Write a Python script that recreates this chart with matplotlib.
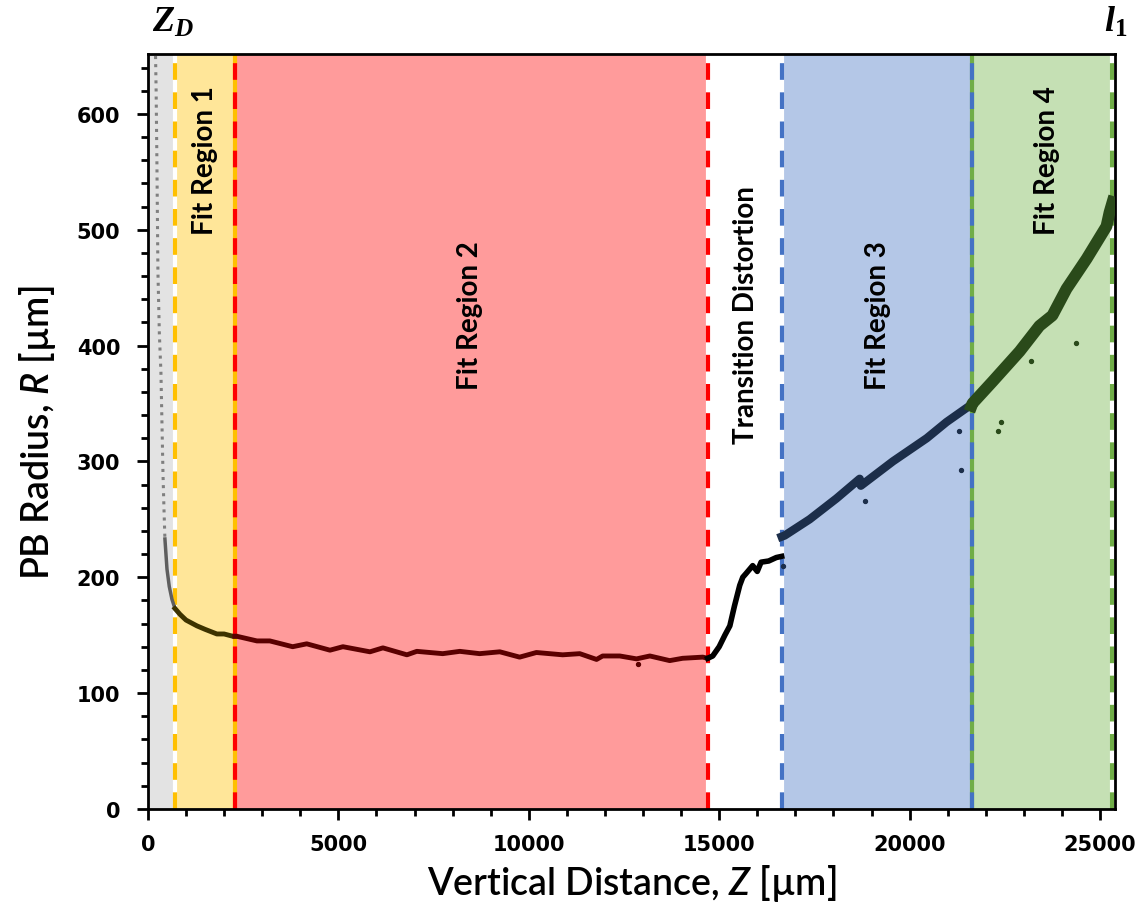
import matplotlib
matplotlib.use('Agg')
import matplotlib.pyplot as plt
from matplotlib.ticker import MultipleLocator

plt.rcParams['mathtext.fontset'] = 'custom'
plt.rcParams['mathtext.rm'] = 'Lato'
plt.rcParams['mathtext.it'] = 'Lato:italic:semibold'
plt.rcParams['mathtext.bf'] = 'Liberation Serif:bold'
plt.rcParams['mathtext.bfit'] = 'Liberation Serif:italic:bold'

# region boundaries along Z [um]
bounds = [0, 709, 2283, 14698, 16640, 21627, 25302]
fills = ['#e3e3e3', '#ffe699', '#ff9b9b', '#ffffff', '#b4c7e7', '#c5e0b4']

# data, per region
z_gray = [200, 215, 235, 262, 300, 341, 370, 394, 420, 446, 500, 560, 630, 709]
r_gray = [650, 620, 560, 464, 410, 377, 330, 291, 260, 233, 207, 192, 181, 173]

z_fit1 = [709, 840, 1000, 1286, 1500, 1810, 2000, 2230, 2283]
r_fit1 = [173, 168, 163, 158, 155, 151, 151, 149, 149]

z_fit2 = [2283, 2336, 2861, 3200, 3800, 4170, 4780, 5120, 5830, 6170, 6800, 7060, 7740,
          8190, 8710, 9240, 9760, 10200, 10890, 11340, 11780, 11940, 12390, 12830,
          13180, 13700, 14040, 14570, 14698]
r_fit2 = [149, 149, 145, 145, 140, 142.5, 137, 140, 135.6, 139, 133, 136, 134,
          136, 134, 135.6, 131, 135, 133, 134, 129, 132, 132, 129.5,
          132, 128, 130, 131, 130]

z_trans = [14698, 14830, 15000, 15150, 15280, 15400, 15540, 15620, 15700, 15880, 16000,
           16100, 16300, 16500, 16640]
r_trans = [130, 132, 140, 150, 158, 175, 193, 200, 203, 210, 205, 213, 214, 217, 218]

z_fit3 = [16640, 16720, 17375, 18080, 18690, 18720, 19560, 20450, 20970, 21575, 21627]
r_fit3 = [235, 236, 250, 268, 285, 279, 300, 320, 334, 348, 349]

z_fit4 = [21627, 21650, 22180, 22890, 23410, 23750, 24120, 24650, 25170, 25250, 25330]
r_fit4 = [348, 350, 369, 395, 417, 426, 449, 475, 503, 515, 524]

# stray points
z_out3 = [18820, 21360, 21310, 16670]
r_out3 = [266, 293, 326, 210]
z_out4 = [24360, 23200, 22410, 22310]
r_out4 = [402, 387, 334, 326]
z_out2 = [12860]
r_out2 = [125]

fig = plt.figure(figsize=(11.38, 9.12), dpi=100)
ax = fig.add_axes([0.130, 0.112, 0.850, 0.828])

for i in range(len(fills)):
    ax.axvspan(bounds[i], bounds[i + 1], color=fills[i], lw=0, zorder=0)

# dashed region borders
dash = (0, (4, 3))
def vline(x, col, under):
    ax.axvline(x, color=under, lw=3, zorder=1)
    ax.axvline(x, color=col, lw=3, linestyle=dash, zorder=1.1)

vline(709, '#ffc000', 'white')
vline(2283, '#ff0000', '#ffc000')
vline(14698, '#ff0000', 'white')
vline(16640, '#4472c4', 'white')
vline(21627, '#4472c4', '#70ad47')
vline(25302, '#70ad47', 'white')

# data
ax.plot(z_gray[:10], r_gray[:10], color='#7f7f7f', lw=2.2, linestyle=':', zorder=3)
ax.plot(z_gray[9:], r_gray[9:], color='#5f5f5f', lw=2.5, zorder=3)
ax.plot(z_fit1, r_fit1, color='#3d3300', lw=3.5, zorder=3)
ax.plot(z_fit2, r_fit2, color='#5a0000', lw=3.5, zorder=3)
ax.plot(z_trans, r_trans, color='black', lw=4, zorder=3)
ax.plot(z_fit3, r_fit3, color='#1c2e4a', lw=6, zorder=3)
ax.plot(z_fit4, r_fit4, color='#2a4a1a', lw=8.5, zorder=3)
ax.scatter(z_out3, r_out3, s=8, color='#1c2e4a', zorder=3)
ax.scatter(z_out4, r_out4, s=8, color='#2a4a1a', zorder=3)
ax.scatter(z_out2, r_out2, s=8, color='#5a0000', zorder=3)

ax.set_xlim(0, 25400)
ax.set_ylim(0, 652)
ax.xaxis.set_major_locator(MultipleLocator(5000))
ax.xaxis.set_minor_locator(MultipleLocator(1000))
ax.yaxis.set_major_locator(MultipleLocator(100))
ax.yaxis.set_minor_locator(MultipleLocator(20))
ax.tick_params(which='major', direction='out', length=8, width=2, labelsize=15)
ax.tick_params(axis='y', which='major', pad=12)
ax.tick_params(axis='x', which='major', pad=10)
ax.tick_params(which='minor', direction='out', length=5, width=2)
for lab in ax.get_xticklabels() + ax.get_yticklabels():
    lab.set_fontweight('bold')
for s in ax.spines.values():
    s.set_linewidth(2)

lblfont = ['Lato', 'DejaVu Sans']
ax.set_xlabel(r'Vertical Distance, $Z$ [µm]', fontsize=27, family=lblfont,
              fontweight='semibold', va='center')
ax.set_ylabel(r'PB Radius, $R$ [µm]', fontsize=27, family=lblfont,
              fontweight='semibold', va='center')
ax.xaxis.set_label_coords(0.5, -0.097)
ax.yaxis.set_label_coords(-0.114, 0.5)

regfont = ['Lato', 'DejaVu Sans']
kw = dict(rotation=90, ha='center', va='center', fontsize=20, fontweight='bold', family=regfont)
ax.text(1500, 561, 'Fit Region 1', **kw)
ax.text(8450, 427, 'Fit Region 2', **kw)
ax.text(15700, 427, 'Transition Distortion', **kw)
ax.text(19160, 427, 'Fit Region 3', **kw)
ax.text(23600, 561, 'Fit Region 4', **kw)

ax.text(650, 666, r'$\mathbfit{Z}_{\mathbfit{D}}$', ha='center', va='bottom', fontsize=26)
ax.text(25420, 666, r'$\mathbfit{l}_{\mathbf{1}}$', ha='center', va='bottom', fontsize=26)

fig.savefig('out.png', dpi=100)
